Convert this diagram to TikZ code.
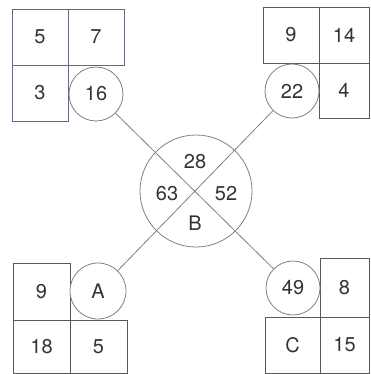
\documentclass[tikz,border=0pt]{standalone}
\usepackage{fontspec}
\setmainfont{TeX Gyre Heros}
\begin{document}
\begin{tikzpicture}[x=1pt,y=-1pt,
  txt/.style={text=black!80, font=\fontsize{20}{24}\selectfont, inner sep=0pt},
  cell/.style={draw=black!65, line width=0.8pt, rectangle, inner sep=0pt, text=black!80, font=\fontsize{20}{24}\selectfont},
  bcell/.style={cell, draw=blue!20!black!60},
  ring/.style={draw=black!50, line width=0.8pt, circle, inner sep=0pt, minimum size=54pt, text=black!80, font=\fontsize{20}{24}\selectfont},
  link/.style={draw=black!50, line width=0.8pt}]
\useasboundingbox (0,0) rectangle (371,374);
% top-left
\node[bcell, minimum width=56pt, minimum height=56pt] (tl1) at (40,37) {5};
\node[bcell, minimum width=56pt, minimum height=56pt] (tl2) at (96,37) {7};
\node[bcell, minimum width=56pt, minimum height=56pt] (tl3) at (40,93) {3};
\node[ring, fill=white] (c16) at (96,94) {16};
% top-right
\node[cell, minimum width=56pt, minimum height=56pt] (tr1) at (291,35) {9};
\node[cell, minimum width=50pt, minimum height=56pt] (tr2) at (344,35) {14};
\node[cell, minimum width=50pt, minimum height=55pt] (tr3) at (344,90.5) {4};
\node[ring, fill=white] (c22) at (292,91) {22};
% bottom-left
\node[cell, minimum width=57pt, minimum height=57pt] (bl1) at (41.5,291.5) {9};
\node[cell, minimum width=57pt, minimum height=53pt] (bl2) at (41.5,346.5) {18};
\node[cell, minimum width=57pt, minimum height=53pt] (bl3) at (98.5,346.5) {5};
\node[ring, fill=white, minimum size=56pt] (cA) at (98,291) {A};
% bottom-right
\node[cell, minimum width=49pt, minimum height=59pt] (br1) at (344.5,287.5) {8};
\node[cell, minimum width=55pt, minimum height=56pt] (br2) at (292.5,345) {C};
\node[cell, minimum width=49pt, minimum height=56pt] (br3) at (344.5,345) {15};
\node[ring, fill=white] (c49) at (293,288) {49};
% centre
\node[ring, minimum size=112pt] (cB) at (196,191) {};
\draw[link] (c16) -- (c49);
\draw[link] (c22) -- (cA);
\node[txt] (n28) at (195,162) {28};
\node[txt] (n63) at (167,194) {63};
\node[txt] (n52) at (226,194) {52};
\node[txt] (nB) at (195,223) {B};
\end{tikzpicture}
\end{document}
